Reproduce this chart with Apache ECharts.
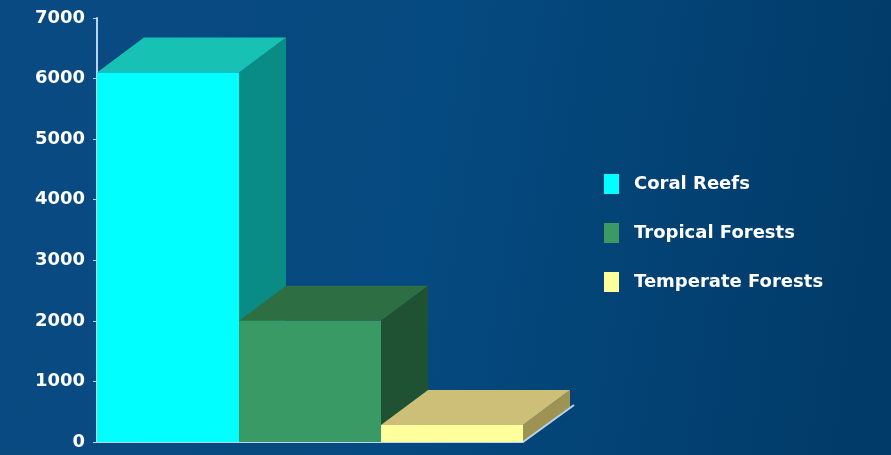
<!DOCTYPE html>
<html>
<head>
<meta charset="utf-8">
<script src="https://cdn.jsdelivr.net/npm/echarts@6/dist/echarts.min.js"></script>
<style>html,body{margin:0;padding:0;background:#053f72;}#c{width:891px;height:455px;}</style>
</head>
<body>
<div id="c"></div>
<script>
const categories = ['Coral Reefs', 'Tropical Forests', 'Temperate Forests'];
const values = [6100, 2000, 280];
const yTicks = [0, 1000, 2000, 3000, 4000, 5000, 6000, 7000];

const palettes = [
  { front: '#00FFFF', top: '#17C2B4', side: '#0A8C86' },
  { front: '#3A9A66', top: '#2D6E42', side: '#1E5233' },
  { front: '#FFFF9C', top: '#CDBE78', side: '#9E9352' }
];
const DX = 47, DY = -35;

function makeRender(pal) {
  return function (params, api) {
    const x = api.value(0), v = api.value(1);
    const p0 = api.coord([x, 0]);
    const p1 = api.coord([x, v]);
    const w = api.size([1, 0])[0];
    const l = p0[0] - w / 2, r = p0[0] + w / 2;
    const b = p0[1], t = p1[1];
    return {
      type: 'group',
      children: [
        { type: 'polygon', shape: { points: [[r, t], [r + DX, t + DY], [r + DX, b + DY], [r, b]] }, style: { fill: pal.side } },
        { type: 'polygon', shape: { points: [[l, t], [r, t], [r + DX, t + DY], [l + DX, t + DY]] }, style: { fill: pal.top } },
        { type: 'rect', shape: { x: l, y: t, width: w, height: b - t }, style: { fill: pal.front } }
      ]
    };
  };
}

const series = categories.map((name, i) => ({
  name: name,
  type: 'custom',
  itemStyle: { color: palettes[i].front },
  renderItem: makeRender(palettes[i]),
  data: [[i, values[i]]],
  z: 2 + i
}));

series.push({
  name: 'floor',
  type: 'custom',
  silent: true,
  renderItem: function (params, api) {
    const p0 = api.coord([api.value(0), 0]);
    const w = api.size([1, 0])[0];
    const r = p0[0] + w / 2;
    return { type: 'line', shape: { x1: r, y1: p0[1], x2: r + DX + 4, y2: p0[1] + DY - 2 }, style: { stroke: '#b8d4ee', lineWidth: 2 } };
  },
  data: [[categories.length - 1, 0]],
  z: 10
});

const chart = echarts.init(document.getElementById('c'));
chart.setOption({
  animation: false,
  backgroundColor: {
    type: 'linear', x: 0, y: 0, x2: 1, y2: 0.3,
    colorStops: [
      { offset: 0, color: '#0a4a82' },
      { offset: 0.5, color: '#054a80' },
      { offset: 1, color: '#013b69' }
    ]
  },
  grid: { left: 97, right: 368, top: 18, bottom: 13 },
  legend: {
    data: categories,
    orient: 'vertical',
    left: 599,
    top: 169,
    itemWidth: 15,
    itemHeight: 20,
    itemGap: 29,
    icon: 'rect',
    textStyle: { color: '#ffffff', fontFamily: 'DejaVu Sans', fontWeight: 'bold', fontSize: 18, padding: [0, 0, 0, 10] }
  },
  xAxis: {
    type: 'category',
    data: categories,
    axisLine: { show: true, lineStyle: { color: '#b8d4ee', width: 2 } },
    axisTick: { show: false },
    axisLabel: { show: false }
  },
  yAxis: {
    type: 'value',
    min: yTicks[0],
    max: yTicks[yTicks.length - 1],
    interval: 1000,
    splitLine: { show: false },
    axisLine: { show: true, lineStyle: { color: '#b8d4ee', width: 2 } },
    axisTick: { show: true, length: 4, lineStyle: { color: '#b8d4ee' } },
    axisLabel: { color: '#ffffff', fontFamily: 'DejaVu Sans', fontWeight: 'bold', fontSize: 18, margin: 12, formatter: function (v) { return String(v); } }
  },
  series: series
});
</script>
</body>
</html>
